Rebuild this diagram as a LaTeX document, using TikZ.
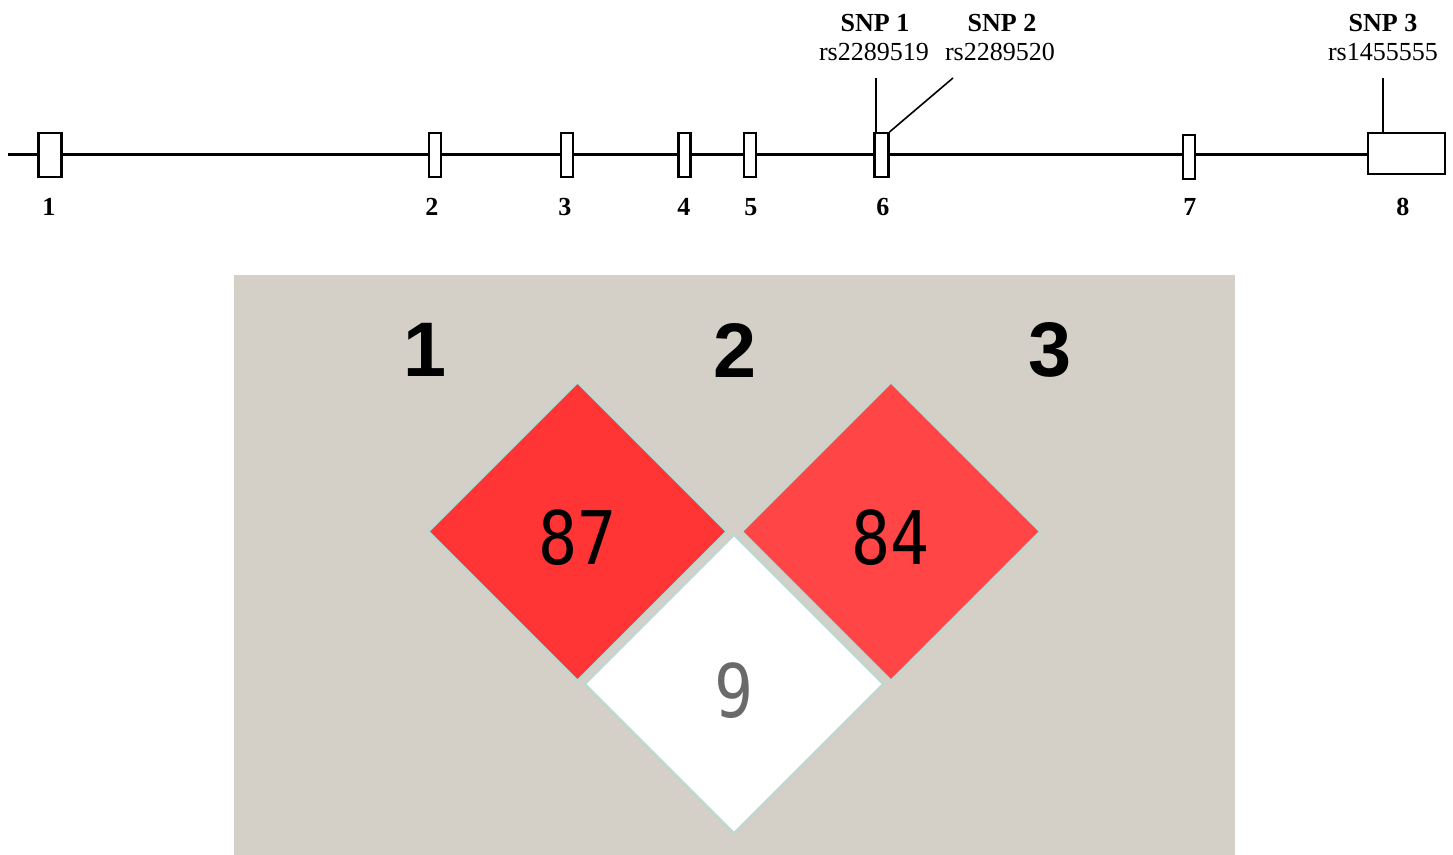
\documentclass[tikz,border=0pt]{standalone}
\usepackage{fontspec}
\setmainfont{Liberation Serif}
\newfontfamily\ldsans{Liberation Sans}
\newfontfamily\ldmono{DejaVu Sans Mono}
\usepackage{tikz}
\usetikzlibrary{shapes.geometric, positioning}
\definecolor{ldgray}{HTML}{D4D0C8}
\definecolor{ldred}{HTML}{FF3535}
\definecolor{ldredlight}{HTML}{FF4545}
\definecolor{ldedge}{HTML}{BCD8D0}
\definecolor{ldtext}{HTML}{6A6A6A}
\newcommand{\ldval}[1]{\raisebox{-1.7pt}[\height][0pt]{\scalebox{0.88}[1]{#1}}}

\begin{document}
\begin{tikzpicture}[
  x=0.01cm, y=-0.01cm,
  exon/.style={draw, line width=0.6pt, fill=white, rectangle, inner sep=0pt, minimum width=0.12cm, minimum height=0.44cm},
  exlbl/.style={font=\fontsize{7.4}{8}\selectfont\bfseries, inner sep=0pt},
  snptitle/.style={font=\fontsize{7.4}{8}\selectfont\bfseries, inner sep=0pt},
  snpid/.style={font=\fontsize{7.4}{8}\selectfont, inner sep=0pt},
  gene/.style={line width=0.85pt},
  snpline/.style={line width=0.45pt},
  ldcell/.style={diamond, aspect=1, draw=ldedge, line width=0.6pt, minimum width=2.99cm, minimum height=2.99cm, inner sep=0pt, font=\ldmono\fontsize{21}{21}\selectfont},
  ldidx/.style={font=\ldsans\bfseries\fontsize{22}{22}\selectfont, inner sep=0pt}
]
\useasboundingbox (0,0) rectangle (1453,855);

% Gene structure (exons)
\coordinate (g0) at (8,155);
\node[exon, minimum width=0.23cm] (e1) at (50,155) {};
\node[exon] (e2) at (435,155) {};
\node[exon] (e3) at (567,155) {};
\node[exon] (e4) at (684.5,155) {};
\node[exon] (e5) at (750,155) {};
\node[exon, minimum width=0.14cm] (e6) at (881.5,155) {};
\node[exon] (e7) at (1189,157) {};
\node[exon, minimum width=0.77cm, minimum height=0.41cm] (e8) at (1406.5,153.5) {};

\draw[gene] (g0) -- (e1) -- (e2) -- (e3) -- (e4) -- (e5) -- (e6) -- (e7.west |- e6) (e7.east |- e6) -- (e8.west |- e6);

% Exon numbers
\node[exlbl] (l1) at (49,207) {1};
\node[exlbl] (l2) at (432,207) {2};
\node[exlbl] (l3) at (565,207) {3};
\node[exlbl] (l4) at (684,207) {4};
\node[exlbl] (l5) at (751,207) {5};
\node[exlbl] (l6) at (883,207) {6};
\node[exlbl] (l7) at (1190,207) {7};
\node[exlbl] (l8) at (1403,207) {8};

% SNP labels
\node[snptitle] (t1) at (875,23) {SNP 1};
\node[snpid] (r1) at (874,52) {rs2289519};
\node[snptitle] (t2) at (1002,23) {SNP 2};
\node[snpid] (r2) at (1000,52) {rs2289520};
\node[snptitle] (t3) at (1383,23) {SNP 3};
\node[snpid] (r3) at (1383,52) {rs1455555};

\coordinate (s1) at (876,78);
\coordinate (s2) at (953,78);
\coordinate (s3) at (1383,78);
\draw[snpline] (s1) -- (s1 |- e6.north);
\draw[snpline] (s2) -- (e6.north east);
\draw[snpline] (s3) -- (s3 |- e8.north);

% LD plot panel
\fill[ldgray] (234,275) rectangle (1235,855);

\node[ldidx] (c1) at (425,350) {1};
\node[ldidx] (c2) at (735,350) {2};
\node[ldidx] (c3) at (1050,350) {3};

\node[ldcell, fill=ldred] (d12) at (577.5,531.5) {\ldval{87}};
\node[ldcell, fill=ldredlight] (d23) at (891,531.5) {\ldval{84}};
\node[ldcell, fill=white, text=ldtext] (d13) at (734,684) {\ldval{9}};

\end{tikzpicture}
\end{document}
